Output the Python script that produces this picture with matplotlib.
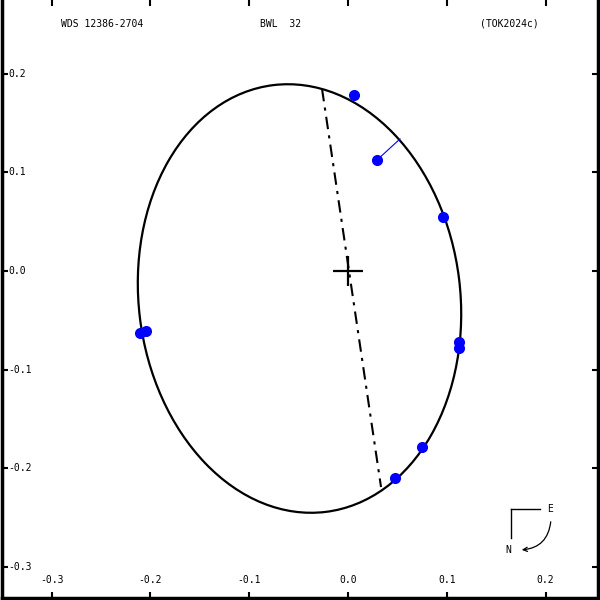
import matplotlib
matplotlib.use("Agg")
import matplotlib.pyplot as plt
import numpy as np
from matplotlib.patches import Ellipse, FancyArrowPatch
from matplotlib.transforms import blended_transform_factory, ScaledTranslation

# observed positions (arcsec)
obs_x = [0.0061, 0.0294, 0.0962, 0.1123, 0.1123, 0.0749, 0.0476, -0.2105, -0.2045]
obs_y = [0.1785, 0.1126, 0.0548, -0.0720, -0.0781, -0.1785, -0.2099, -0.0629, -0.0609]

# O-C residual line (observation -> orbit)
resid_x = [0.0294, 0.0526]
resid_y = [0.1126, 0.1339]

# line of nodes
nodes_x = [-0.0263, 0.0334]
nodes_y = [0.1846, -0.2191]

# apparent orbit ellipse
orbit_center = (-0.0491, -0.0279)
orbit_minor = 0.1627
orbit_major = 0.2180
orbit_angle = 7.0

ticks = [-0.3, -0.2, -0.1, 0.0, 0.1, 0.2]
mono = "DejaVu Sans Mono"

fig = plt.figure(figsize=(6, 6), dpi=100)
ax = fig.add_axes([2 / 600, 2 / 600, 596 / 600, 598 / 600])
ax.set_xlim(-0.3502, 0.2530)
ax.set_ylim(-0.3316, 0.2748)

orbit = Ellipse(orbit_center, 2 * orbit_minor, 2 * orbit_major, angle=orbit_angle,
                fill=False, edgecolor="black", linewidth=1.6)
ax.add_patch(orbit)

ax.plot(nodes_x, nodes_y, color="black", linewidth=1.5, linestyle=(0, (6, 3, 1.5, 3)))
ax.plot(resid_x, resid_y, color="blue", linewidth=0.8)
ax.plot(obs_x, obs_y, "o", color="blue", markersize=8, markeredgewidth=0)
ax.plot([0], [0], "+", color="black", markersize=22, markeredgewidth=1.6)

# ticks inward, labels drawn inside the frame
ax.set_xticks(ticks)
ax.set_yticks(ticks)
ax.tick_params(direction="in", length=4, width=1.5, top=True, right=True,
               labelbottom=False, labelleft=False)
for s in ["left", "bottom", "right"]:
    ax.spines[s].set_linewidth(2.5)
ax.spines["top"].set_visible(False)

xt = blended_transform_factory(ax.transData, ax.transAxes) + ScaledTranslation(0, 18 / 100, fig.dpi_scale_trans)
for t in ticks:
    ax.text(t, 0, f"{t:.1f}", transform=xt, ha="center", va="center", fontsize=7, family=mono)
yt = blended_transform_factory(ax.transAxes, ax.transData) + ScaledTranslation(6 / 100, 0, fig.dpi_scale_trans)
for t in ticks:
    ax.text(0, t, f"{t:.1f}", transform=yt, ha="left", va="center", fontsize=7, family=mono)

# header
fig.text(61 / 600, 1 - 24 / 600, "WDS 12386-2704", ha="left", va="center", fontsize=7, family=mono)
fig.text(260 / 600, 1 - 24 / 600, "BWL  32", ha="left", va="center", fontsize=7, family=mono)
fig.text(480 / 600, 1 - 24 / 600, "(TOK2024c)", ha="left", va="center", fontsize=7, family=mono)

# compass
fig.add_artist(plt.Line2D([511 / 600, 540 / 600], [1 - 509 / 600, 1 - 509 / 600],
                          transform=fig.transFigure, color="black", linewidth=1))
fig.add_artist(plt.Line2D([511 / 600, 511 / 600], [1 - 509 / 600, 1 - 538 / 600],
                          transform=fig.transFigure, color="black", linewidth=1))
fig.text(550 / 600, 1 - 509 / 600, "E", ha="center", va="center", fontsize=7, family=mono)
fig.text(508 / 600, 1 - 550 / 600, "N", ha="center", va="center", fontsize=7, family=mono)
arr = FancyArrowPatch((551 / 600, 1 - 519 / 600), (519 / 600, 1 - 550 / 600),
                      transform=fig.transFigure, connectionstyle="arc3,rad=-0.45",
                      arrowstyle="->,head_length=3,head_width=1.5", color="black", linewidth=0.9)
fig.add_artist(arr)

fig.savefig("out.png", dpi=100)
